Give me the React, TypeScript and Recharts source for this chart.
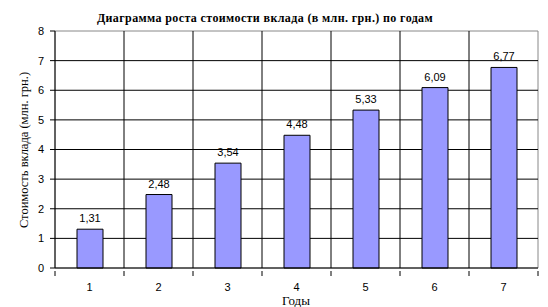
import { Bar, BarChart, CartesianGrid, LabelList, XAxis, YAxis } from "recharts";

const years = ["1", "2", "3", "4", "5", "6", "7"];
const values = [1.31, 2.48, 3.54, 4.48, 5.33, 6.09, 6.77];
const yTicks = [0, 1, 2, 3, 4, 5, 6, 7, 8];

const title = "Диаграмма роста стоимости вклада (в млн. грн.) по годам";
const yTitle = "Стоимость вклада (млн. грн.)";
const xTitle = "Годы";

const data = years.map((year, i) => ({ year, value: values[i] }));

const W = 548;
const H = 307;
const serif = "'Liberation Serif', 'Times New Roman', serif";
const sans = "'Liberation Sans', Arial, sans-serif";

const fmt = (v: number) => v.toFixed(2).replace(".", ",");

// vertical lines sit on the category boundaries, like Excel
const boundaries = (offset: any, inner: boolean) => {
  const step = offset.width / years.length;
  const pts: number[] = [];
  for (let i = 0; i <= years.length; i++) {
    if (inner && (i === 0 || i === years.length)) continue;
    if (!inner && i !== 0 && i !== years.length) continue;
    pts.push(offset.left + i * step);
  }
  return pts;
};

const XTick = (props: any) => {
  const { x, y, payload, index } = props;
  const half = (W - 55 - 10) / years.length / 2;
  return (
    <g>
      <line x1={x - half} x2={x - half} y1={y - 5} y2={y} stroke="#000" />
      {index === years.length - 1 && (
        <line x1={x + half} x2={x + half} y1={y - 5} y2={y} stroke="#000" />
      )}
      <text x={x} y={y + 15} textAnchor="middle" fontSize={11} fontFamily={sans} fill="#000">
        {payload.value}
      </text>
    </g>
  );
};

export default function App() {
  return (
    <div style={{ position: "absolute", left: 0, top: 0, width: W, height: H, background: "#fff" }}>
      <BarChart
        width={W}
        height={H}
        data={data}
        margin={{ top: 31, right: 10, left: 0, bottom: 0 }}
        barSize={26}
      >
        <text
          x={265}
          y={22}
          textAnchor="middle"
          fontSize={12}
          fontWeight="bold"
          letterSpacing={0.38}
          fontFamily={serif}
          fill="#000"
        >
          {title}
        </text>
        <CartesianGrid
          stroke="#888"
          fill="none"
          horizontalCoordinatesGenerator={({ offset }: any) => [offset.top, offset.top + offset.height]}
          verticalCoordinatesGenerator={({ offset }: any) => boundaries(offset, false)}
        />
        <CartesianGrid
          stroke="#000"
          fill="none"
          horizontalCoordinatesGenerator={({ offset }: any) =>
            yTicks.slice(1, -1).map((t) => offset.top + offset.height - (t / 8) * offset.height)
          }
          verticalCoordinatesGenerator={({ offset }: any) => boundaries(offset, true)}
        />
        <XAxis
          dataKey="year"
          height={39}
          stroke="#000"
          tickLine={false}
          tick={<XTick />}
          interval={0}
          label={() => (
            <text x={296} y={305} textAnchor="middle" fontSize={13} fontFamily={serif} fill="#000">
              {xTitle}
            </text>
          )}
        />
        <YAxis
          width={55}
          domain={[0, 8]}
          ticks={yTicks}
          interval={0}
          stroke="#000"
          tickSize={5}
          tickMargin={6}
          tick={{ fontSize: 11, fontFamily: sans, fill: "#000" }}
          label={() => (
            <text
              x={24}
              y={150}
              transform="rotate(-90 24 150)"
              textAnchor="middle"
              dominantBaseline="central"
              fontSize={12.5}
              fontFamily={serif}
              fill="#000"
            >
              {yTitle}
            </text>
          )}
        />
        <Bar dataKey="value" fill="#9999ff" stroke="#000" strokeWidth={1} isAnimationActive={false}>
          <LabelList
            dataKey="value"
            position="top"
            offset={7}
            formatter={(v: any) => fmt(Number(v))}
            style={{ fontSize: 11, fontFamily: sans, fill: "#000" }}
          />
        </Bar>
      </BarChart>
    </div>
  );
}
